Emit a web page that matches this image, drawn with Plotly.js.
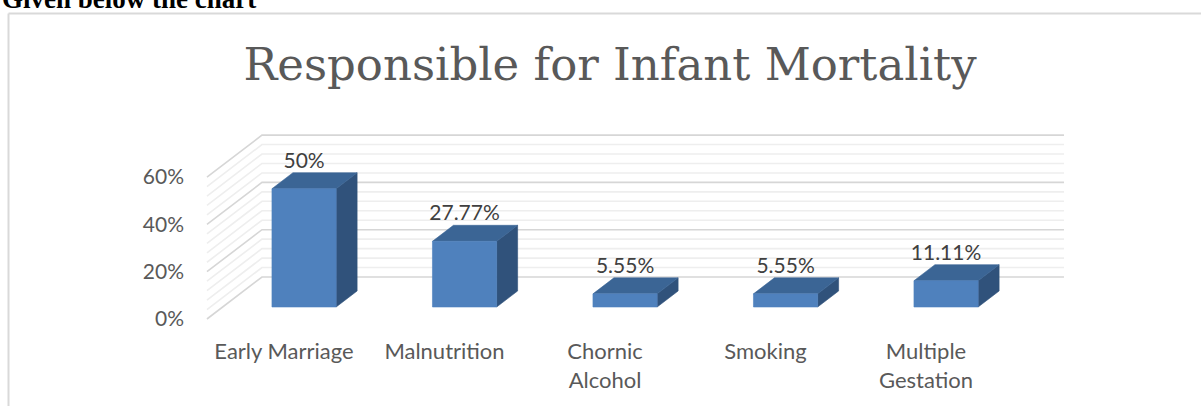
<!DOCTYPE html>
<html>
<head>
<meta charset="utf-8">
<script src="https://cdn.plot.ly/plotly-3.0.1.min.js"></script>
<style>html,body{margin:0;padding:0;background:#fff;}#chart{width:1201px;height:406px;}</style>
</head>
<body>
<div id="chart"></div>
<script>
// ---- data ----
const categories = ['Early Marriage', 'Malnutrition', 'Chornic<br>Alcohol', 'Smoking', 'Multiple<br>Gestation'];
const values = [50, 27.77, 5.55, 5.55, 11.11];
const valueLabels = ['50%', '27.77%', '5.55%', '5.55%', '11.11%'];
const yTickVals = [0, 20, 40, 60];
const yTickText = ['0%', '20%', '40%', '60%'];

// ---- oblique 3D projection (in axis units) ----
const DX = 0.3427;   // x-shift (category units) for full depth
const DY = 17.76;    // y-shift (percent units) for full depth
const D1 = 0.286, D2 = 0.667;   // bar front/back depth
const BAR_SHIFT = 0.125, BAR_HALF = 0.2;
const WALL_L = -0.48, WALL_R = 4.517;
const GRID_STEP = 4, GRID_MAX = 60;

const traces = [];
function gridTrace(levels, color) {
  const x = [], y = [];
  levels.forEach(v => {
    x.push(WALL_L, WALL_L + DX, WALL_R + DX, null);
    y.push(v, v + DY, v + DY, null);
  });
  return {x, y, mode: 'lines', type: 'scatter', line: {color, width: 1.6}, hoverinfo: 'skip'};
}
const minorLv = [], majorLv = [];
for (let v = 0; v <= GRID_MAX; v += GRID_STEP) (yTickVals.includes(v) ? majorLv : minorLv).push(v);
traces.push(gridTrace(minorLv, '#eeeeee'));
traces.push(gridTrace(majorLv, '#d6d6d6'));

const frontF = {x: [], y: []}, topF = {x: [], y: []}, sideF = {x: [], y: []};
values.forEach((v, i) => {
  const xl = i + BAR_SHIFT - BAR_HALF, xr = i + BAR_SHIFT + BAR_HALF;
  const y0 = D1 * DY, y1 = v + D1 * DY;
  const ox = (D2 - D1) * DX, oy = (D2 - D1) * DY;
  frontF.x.push(xl, xr, xr, xl, xl, null); frontF.y.push(y0, y0, y1, y1, y0, null);
  topF.x.push(xl, xr, xr + ox, xl + ox, xl, null); topF.y.push(y1, y1, y1 + oy, y1 + oy, y1, null);
  sideF.x.push(xr, xr + ox, xr + ox, xr, xr, null); sideF.y.push(y0, y0 + oy, y1 + oy, y1, y0, null);
});
function face(p, color) {
  return {x: p.x, y: p.y, type: 'scatter', mode: 'lines', fill: 'toself', fillcolor: color,
          line: {color: color, width: 0.6}, hoverinfo: 'skip'};
}
traces.push(face(sideF, '#30527b'));
traces.push(face(topF, '#3b6595'));
traces.push(face(frontF, '#4f81bd'));

traces.push({
  x: values.map((v, i) => i + BAR_SHIFT),
  y: values.map(v => v + D2 * DY + 4.3),
  text: valueLabels, mode: 'text', type: 'scatter', textposition: 'middle center',
  textfont: {family: 'Lato, sans-serif', size: 21, color: '#404040'},
  cliponaxis: false, hoverinfo: 'skip'
});

const L = 188, R = 1100, T = 120, B = 336;
const layout = {
  width: 1201, height: 406,
  margin: {l: L, r: 1201 - R, t: T, b: 406 - B, pad: 0},
  paper_bgcolor: '#ffffff', plot_bgcolor: '#ffffff',
  showlegend: false, hovermode: false,
  title: {text: 'Responsible for Infant Mortality', x: 610 / 1201, xanchor: 'center',
          y: 1 - 64 / 406, yanchor: 'middle', yref: 'container',
          font: {family: '"DejaVu Serif", serif', size: 45, color: '#595959'}},
  xaxis: {range: [(L - 284) / 160.5, (R - 284) / 160.5], tickvals: [0, 1, 2, 3, 4], ticktext: categories,
          showgrid: false, zeroline: false, showline: false, ticks: '',
          tickfont: {family: 'Lato, sans-serif', size: 22, color: '#595959'}, fixedrange: true},
  yaxis: {range: [-(B - 319) / 2.365, (319 - T) / 2.365], tickvals: yTickVals, ticktext: yTickText,
          showgrid: false, zeroline: false, showline: false, ticks: '', ticklabelstandoff: 3,
          tickfont: {family: 'Lato, sans-serif', size: 21, color: '#595959'}, fixedrange: true},
  shapes: [
    {type: 'line', xref: 'paper', yref: 'paper', x0: (8.5 - L) / (R - L), x1: (1201 - L) / (R - L),
     y0: (B - 13.5) / (B - T), y1: (B - 13.5) / (B - T), line: {color: '#d9d9d9', width: 2}},
    {type: 'line', xref: 'paper', yref: 'paper', x0: (8.5 - L) / (R - L), x1: (8.5 - L) / (R - L),
     y0: (B - 13.5) / (B - T), y1: (B - 406) / (B - T), line: {color: '#d9d9d9', width: 2}}
  ],
  annotations: [
    {text: '<b>Given below the chart</b>', xref: 'paper', yref: 'paper', showarrow: false,
     x: (0 - L) / (R - L), xanchor: 'left', y: (B + 0.5) / (B - T), yanchor: 'middle',
     font: {family: '"Liberation Serif", serif', size: 27, color: '#000000'}}
  ]
};
Plotly.newPlot('chart', traces, layout, {staticPlot: true, displayModeBar: false});
</script>
</body>
</html>
